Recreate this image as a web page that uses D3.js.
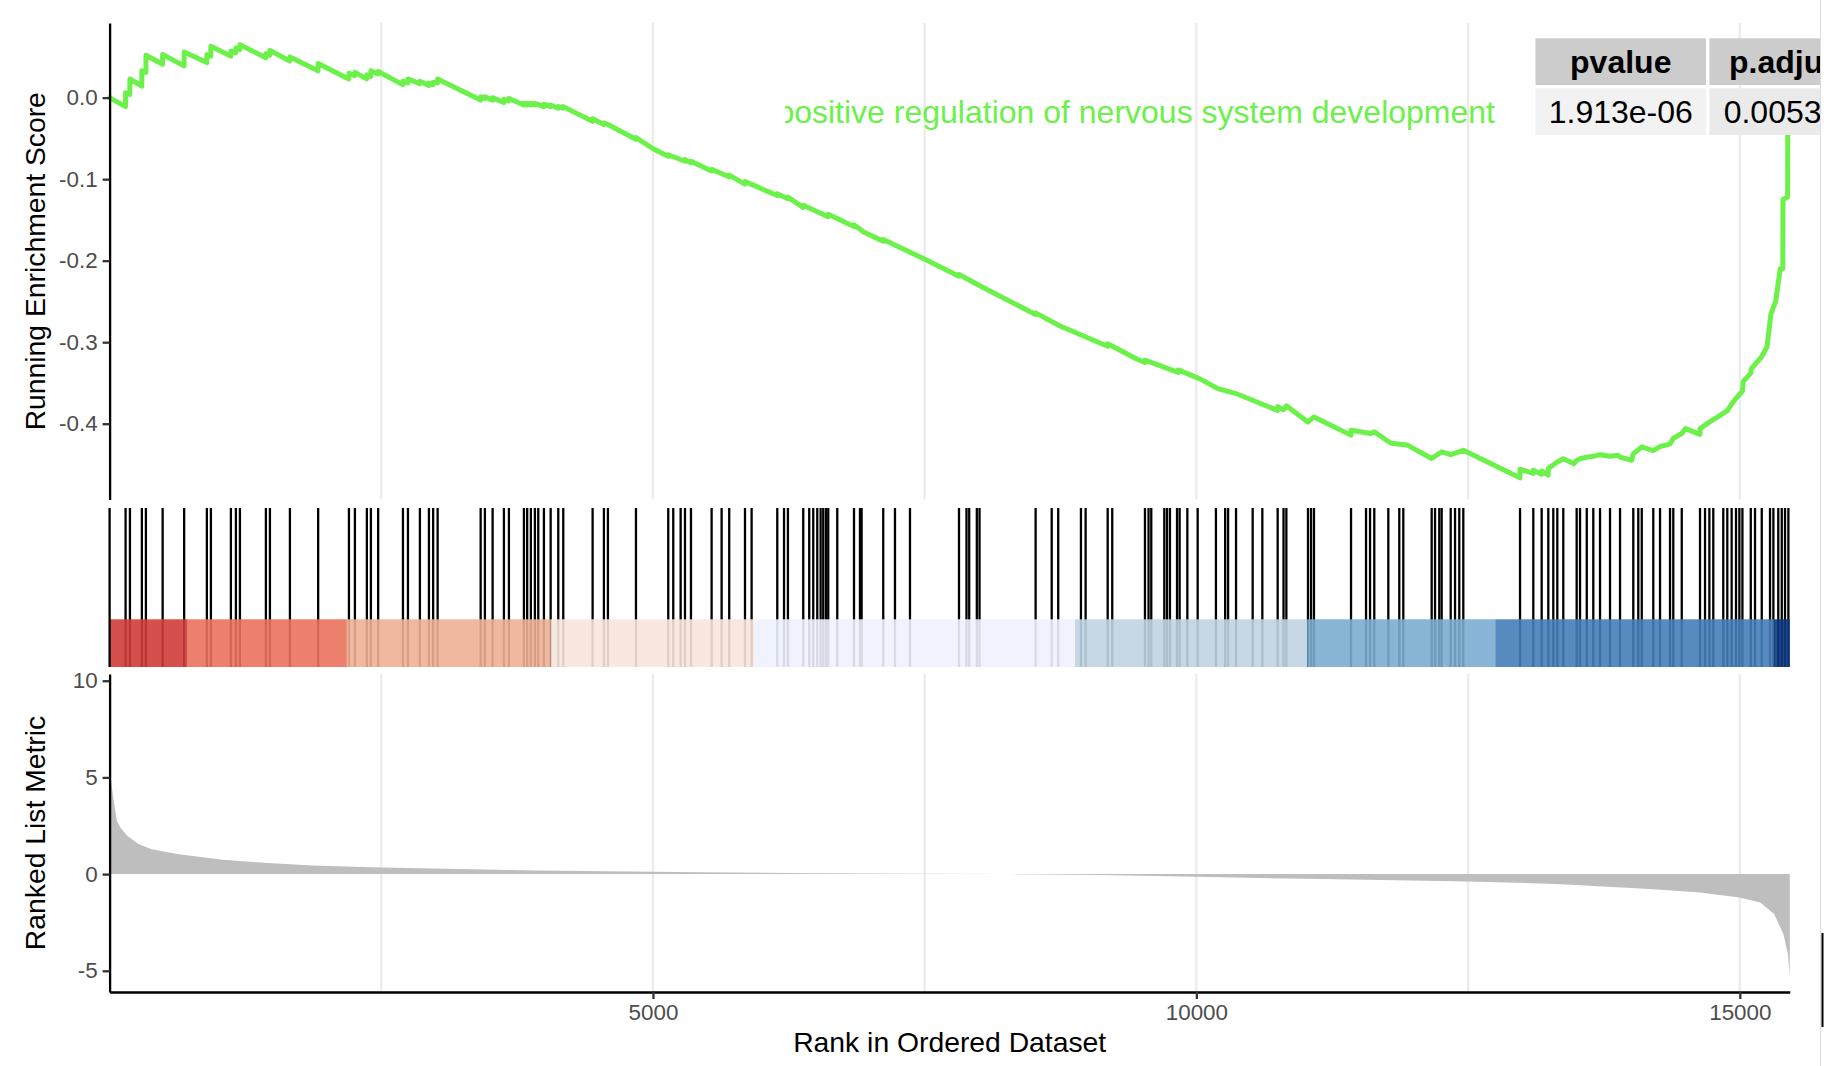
<!DOCTYPE html>
<html><head><meta charset="utf-8">
<script src="https://cdn.jsdelivr.net/npm/d3@7"></script>
<style>
body{margin:0;background:#fff}
svg{display:block}
text{font-family:"Liberation Sans",Arial,Helvetica,sans-serif}
</style>
</head><body>
<svg id="c" width="1824" height="1066"></svg>
<script>
// ---------------- data ----------------
const N = 15460;                       // number of ranked genes
const termName = "positive regulation of nervous system development";
const tableHeader = ["pvalue", "p.adjust"];
const tableValues = ["1.913e-06", "0.005349"];

// running enrichment score [rank, ES]
const esPoints = [
 [1,0.000],[147,-0.011],[148,0.006],[187,0.004],[188,0.023],
 [297,0.014],[298,0.033],[335,0.031],[336,0.052],
 [488,0.041],[489,0.053],[686,0.039],[687,0.056],
 [895,0.043],[896,0.053],[932,0.051],[933,0.063],
 [1116,0.051],[1117,0.057],[1162,0.055],[1163,0.061],[1199,0.059],[1200,0.065],
 [1438,0.049],[1439,0.054],[1475,0.052],[1476,0.058],
 [1659,0.045],[1660,0.050],[1919,0.033],[1920,0.042],
 [2202,0.023],[2203,0.030],[2257,0.027],[2258,0.031],
 [2367,0.023],[2368,0.028],[2404,0.026],[2405,0.033],[2471,0.029],[2472,0.032],
 [2699,0.016],[2700,0.020],[2745,0.018],[2746,0.023],[2855,0.017],[2856,0.020],
 [2938,0.015],[2939,0.018],[2977,0.016],[2978,0.019],[3018,0.018],[3019,0.023],
 [3414,-0.003],[3415,0.001],[3453,-0.001],[3454,0.001],[3524,-0.003],[3525,0.000],
 [3628,-0.006],[3629,-0.002],[3674,-0.004],[3675,-0.001],
 [3812,-0.009],[3813,-0.007],[3842,-0.009],[3843,-0.007],[3876,-0.009],[3877,-0.007],
 [3913,-0.009],[3914,-0.007],[3996,-0.011],[3997,-0.008],[4058,-0.011],[4059,-0.009],
 [4128,-0.013],[4129,-0.011],[4174,-0.013],[4175,-0.011],
 [4444,-0.029],[4445,-0.026],[4548,-0.033],[4549,-0.031],[4586,-0.033],
 [4843,-0.051],[4844,-0.049],[5006,-0.063],[5140,-0.072],[5141,-0.070],
 [5294,-0.078],[5295,-0.076],[5349,-0.080],[5350,-0.078],[5539,-0.090],[5540,-0.088],
 [5701,-0.097],[5702,-0.095],[5846,-0.106],[5847,-0.103],[6143,-0.120],[6144,-0.118],
 [6241,-0.124],[6242,-0.122],[6382,-0.1346],[6383,-0.132],[6612,-0.146],[6613,-0.143],
 [6849,-0.158],[6850,-0.156],[6942,-0.165],[7118,-0.176],[7119,-0.174],[7498,-0.198],
 [7815,-0.219],[7816,-0.217],[8034,-0.2326],[8520,-0.266],[8521,-0.264],[8736,-0.2795],
 [9183,-0.305],[9184,-0.302],[9443,-0.320],[9526,-0.325],[9527,-0.322],[9833,-0.337],
 [9834,-0.334],[10033,-0.345],[10198,-0.357],[10363,-0.363],
 [10747,-0.3836],[10748,-0.379],[10801,-0.383],[10828,-0.378],
 [11026,-0.398],[11082,-0.3917],[11422,-0.414],[11423,-0.408],[11607,-0.412],[11638,-0.410],
 [11791,-0.424],[11938,-0.426],[12164,-0.4427],[12257,-0.4345],[12340,-0.438],[12456,-0.4326],
 [12977,-0.4664],[12978,-0.4558],[13099,-0.461],[13100,-0.457],[13176,-0.462],[13177,-0.458],
 [13237,-0.463],[13238,-0.455],[13321,-0.447],[13376,-0.443],[13474,-0.449],[13499,-0.445],
 [13530,-0.443],[13592,-0.441],[13652,-0.440],[13714,-0.438],[13806,-0.440],[13878,-0.4387],
 [13897,-0.441],[14005,-0.4448],[14020,-0.437],[14098,-0.4284],[14203,-0.433],[14266,-0.428],
 [14357,-0.425],[14388,-0.418],[14466,-0.412],[14501,-0.406],[14633,-0.413],[14634,-0.406],
 [14720,-0.398],[14794,-0.392],[14885,-0.384],[14940,-0.373],[15024,-0.360],[15032,-0.348],
 [15101,-0.338],[15104,-0.333],[15200,-0.318],[15250,-0.306],[15287,-0.265],[15330,-0.250],
 [15372,-0.210],[15396,-0.210],[15397,-0.125],[15440,-0.122],[15441,-0.047],[15460,0.000]
];

// ranks of the gene-set members
const hitRanks = [
 148,188,298,335,489,687,896,933,1117,1163,1200,1439,1476,1660,1920,2203,2258,2368,2405,2472,
 2700,2746,2856,2939,2978,3019,3415,3454,3525,3629,3675,3813,3843,3877,
 3914,3945,3997,4059,4129,4175,4445,4549,4586,4844,5141,5187,5255,5295,5350,5540,5632,5702,
 5847,5908,6144,6206,6242,6383,6438,6475,6512,6543,6567,6592,6613,6696,6850,6905,6920,7119,
 7227,7365,7816,
 7885,7910,7980,8005,8521,8669,8729,8938,8981,9184,9226,9527,9560,9585,9705,9730,9757,9822,
 9846,9917,10012,10180,10265,10292,10365,10518,10607,10748,10802,10828,11027,11055,11082,
 11423,11561,11598,11637,
 11766,11867,11904,12165,12196,12235,12257,12340,12380,12419,12456,12978,13100,13177,13238,
 13284,13321,13376,13499,13530,13592,13652,13714,13806,13898,14020,14066,14098,14204,14266,
 14358,14388,14466,14634,14680,14720,14756,14848,14885,14925,14965,14996,15024,15101,15140,
 15202,15278,15309,15354,15386,15416,15447
];

// ranked list metric [rank, value]
const metricPoints = [
 [1,9.6],[4,5.6],[10,5.0],[39,3.79],[68,2.76],[100,2.41],[162,1.98],[265,1.55],[388,1.29],
 [635,1.03],[1045,0.74],[1457,0.57],[1867,0.45],[2495,0.34],[3099,0.27],[3921,0.19],
 [4997,0.12],[5432,0.09],[6500,0.05],[7500,0.02],[8300,0.0],[9113,-0.05],[9997,-0.14],
 [11152,-0.26],[12500,-0.38],[13362,-0.52],[14211,-0.78],[14635,-0.95],[14997,-1.21],
 [15188,-1.47],[15316,-2.07],[15401,-3.10],[15443,-4.14],[15456,-5.0],[15460,-5.35]
];

// colour bar bins (rank boundaries) and fills
const barBreaks = [1,720,2184,4059,5934,8883,11020,12750,15314,15460];
const barColors = ["#D03D38","#EA725C","#EFB096","#F8E5DB","#EEF2FD","#C0D4E3","#7BACD0","#457DB7","#0B3A80"];

const esTicks = [0,-0.1,-0.2,-0.3,-0.4];
const metricTicks = [10,5,0,-5];
const xMajorTicks = [5000,10000,15000];
const xMinorTicks = [2500,7500,12500];

// ---------------- layout ----------------
const svg = d3.select("#c");
const X0 = 109.6, X1 = 1789.8;
const P1 = {top:23, bot:499.5};
const P2 = {top:508, bot:667};
const P3 = {top:674, bot:992};
const LINE = "#6CF04A";
const AX_W = 2.3, GRID = "#EBEBEB";
const TICK_FS = 22.4, TITLE_FS = 28.3;

const x = d3.scaleLinear().domain([1, N]).range([X0, X1]);

function expand(ext){ const p=(ext[1]-ext[0])*0.05; return [ext[0]-p, ext[1]+p]; }
const yES = d3.scaleLinear().domain(expand(d3.extent(esPoints,d=>d[1]))).range([P1.bot,P1.top]);
const yM  = d3.scaleLinear().domain(expand(d3.extent(metricPoints,d=>d[1]))).range([P3.bot,P3.top]);
const yMid = d3.scaleLinear().domain([0,1]).range([P2.bot,P2.top]);
const plain = d => String(d);

function grid(p){
  svg.append("g").selectAll("line").data(xMinorTicks.concat(xMajorTicks)).join("line")
    .attr("x1",d=>x(d)).attr("x2",d=>x(d)).attr("y1",p.top).attr("y2",p.bot)
    .attr("stroke",GRID).attr("stroke-width",AX_W);
}
function styleAxis(g){
  g.select(".domain").attr("stroke","#000").attr("stroke-width",AX_W);
  g.selectAll(".tick line").attr("stroke","#333").attr("stroke-width",AX_W);
  g.selectAll(".tick text").attr("fill","#4D4D4D").attr("font-size",TICK_FS)
    .attr("font-family",'"Liberation Sans",Arial,sans-serif');
}

// ---- panel 1: running ES ----
grid(P1);
svg.append("path").datum(esPoints)
  .attr("d", d3.line().x(d=>x(d[0])).y(d=>yES(d[1])))
  .attr("fill","none").attr("stroke",LINE).attr("stroke-width",5)
  .attr("stroke-linejoin","round").attr("stroke-linecap","round");
const ay1 = svg.append("g").attr("transform",`translate(${X0},0)`)
  .call(d3.axisLeft(yES).tickValues(esTicks).tickFormat(d=>d.toFixed(1)).tickSize(7).tickPadding(5).tickSizeOuter(0));
styleAxis(ay1);
svg.append("text").attr("transform",`translate(35,${(P1.top+P1.bot)/2}) rotate(-90)`)
  .attr("text-anchor","middle").attr("dominant-baseline","central")
  .attr("font-size",TITLE_FS).attr("fill","#000").text("Running Enrichment Score");

// ---- panel 2: hits + colour bar ----
svg.append("g").selectAll("line").data(hitRanks).join("line")
  .attr("x1",d=>x(d)).attr("x2",d=>x(d)).attr("y1",yMid(0)).attr("y2",yMid(1))
  .attr("stroke","#000").attr("stroke-width",AX_W);
svg.append("g").selectAll("rect").data(barColors).join("rect")
  .attr("x",(d,i)=>x(barBreaks[i])).attr("width",(d,i)=>x(barBreaks[i+1])-x(barBreaks[i]))
  .attr("y",yMid(0.3)).attr("height",yMid(0)-yMid(0.3))
  .attr("fill",d=>d).attr("fill-opacity",0.9);
svg.append("line").attr("x1",X0).attr("x2",X0).attr("y1",P2.top).attr("y2",P2.bot)
  .attr("stroke","#000").attr("stroke-width",AX_W);

// ---- panel 3: ranked metric ----
grid(P3);
svg.append("path").datum(metricPoints)
  .attr("d", d3.area().x(d=>x(d[0])).y0(yM(0)).y1(d=>yM(d[1])))
  .attr("fill","#BEBEBE");
const ay3 = svg.append("g").attr("transform",`translate(${X0},0)`)
  .call(d3.axisLeft(yM).tickValues(metricTicks).tickFormat(plain).tickSize(7).tickPadding(5).tickSizeOuter(0));
styleAxis(ay3);
const ax3 = svg.append("g").attr("transform",`translate(0,${P3.bot})`)
  .call(d3.axisBottom(x).tickValues(xMajorTicks).tickFormat(plain).tickSize(7).tickPadding(5).tickSizeOuter(0));
styleAxis(ax3);
svg.append("text").attr("transform",`translate(35,${(P3.top+P3.bot)/2}) rotate(-90)`)
  .attr("text-anchor","middle").attr("dominant-baseline","central")
  .attr("font-size",TITLE_FS).attr("fill","#000").text("Ranked List Metric");
svg.append("text").attr("x",(X0+X1)/2).attr("y",1042)
  .attr("text-anchor","middle").attr("dominant-baseline","central")
  .attr("font-size",TITLE_FS).attr("fill","#000").text("Rank in Ordered Dataset");

// ---- p-value table ----
const TFS = 32;
const cols = [{x:1535.5,w:170.5},{x:1709.4,w:162}];
const hdr = {y:38.3,h:46.7}, row = {y:88.3,h:46.7};
const tg = svg.append("g");
tg.selectAll("rect.h").data(cols).join("rect").attr("class","h")
  .attr("x",d=>d.x).attr("y",hdr.y).attr("width",d=>d.w).attr("height",hdr.h).attr("fill","#CCCCCC");
tg.selectAll("rect.b").data(cols).join("rect").attr("class","b")
  .attr("x",d=>d.x).attr("y",row.y).attr("width",d=>d.w).attr("height",row.h)
  .attr("fill",(d,i)=>i===0?"#F2F2F2":"#EAEAEA");
tg.selectAll("text.h").data(tableHeader).join("text").attr("class","h")
  .attr("x",(d,i)=>cols[i].x+cols[i].w/2).attr("y",hdr.y+hdr.h/2).attr("dy","0.36em")
  .attr("text-anchor","middle").attr("font-weight","bold").attr("font-size",TFS).attr("fill","#000").text(d=>d);
tg.selectAll("text.b").data(tableValues).join("text").attr("class","b")
  .attr("x",(d,i)=>cols[i].x+cols[i].w/2).attr("y",row.y+row.h/2).attr("dy","0.36em")
  .attr("text-anchor","middle").attr("font-size",TFS).attr("fill","#000").text(d=>d);

// row name (clipped on the left like the reference)
const defs = svg.append("defs");
defs.append("clipPath").attr("id","rn").append("rect").attr("x",785).attr("y",0).attr("width",1000).attr("height",200);
svg.append("text").attr("clip-path","url(#rn)")
  .attr("x",1495).attr("y",row.y+row.h/2).attr("dy","0.36em").attr("text-anchor","end")
  .attr("font-size",TFS).attr("fill",LINE).text(termName);

// ---- cut edge at right ----
svg.append("rect").attr("x",1820).attr("y",0).attr("width",4).attr("height",1066).attr("fill","#fff");
svg.append("line").attr("x1",1820.5).attr("x2",1820.5).attr("y1",0).attr("y2",1066)
  .attr("stroke","#DDDDDD").attr("stroke-width",1);
svg.append("line").attr("x1",1822.5).attr("x2",1822.5).attr("y1",933).attr("y2",1027)
  .attr("stroke","#000").attr("stroke-width",2);
</script>
</body></html>
